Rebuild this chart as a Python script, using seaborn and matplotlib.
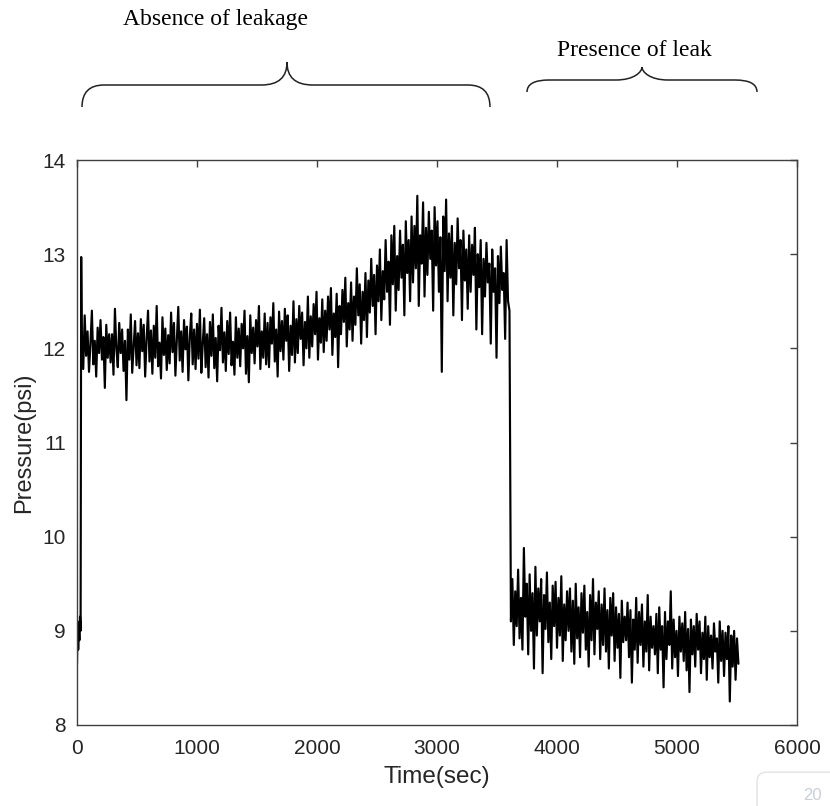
import numpy as np
import pandas as pd
import matplotlib
matplotlib.use("Agg")
import matplotlib.pyplot as plt
import seaborn as sns
from matplotlib.path import Path
from matplotlib.patches import PathPatch, FancyBboxPatch

# start-up transient (sec, psi)
start_time = [0, 5, 10, 15, 20, 25, 30, 35]
start_p = [8.65, 9.10, 8.80, 9.05, 8.90, 9.15, 9.00, 12.97]

# normal operation, sampled every 12 s from t=40
normal_t0, step = 40, 12
normal_p = [
    12.10, 11.78, 12.35, 11.92, 12.18, 11.75, 12.05, 12.40, 11.83, 12.08,
    11.70, 12.22, 11.95, 12.30, 11.88, 12.12, 11.58, 12.25, 11.90, 12.15,
    11.85, 12.15, 11.72, 12.42, 12.00, 11.80, 12.27, 11.95, 12.20, 11.76,
    12.08, 11.45, 12.20, 11.88, 12.36, 11.74, 12.02, 12.29, 11.82, 12.16,
    11.79, 12.31, 11.97, 12.25, 11.70, 12.10, 12.40, 11.86, 12.19, 11.73,
    12.24, 11.90, 12.45, 11.81, 12.06, 11.68, 12.33, 11.93, 12.21, 11.77,
    12.14, 11.84, 12.38, 11.96, 12.27, 11.71, 12.09, 12.44, 11.87, 12.18,
    11.75, 12.30, 11.99, 12.23, 11.66, 12.12, 12.37, 11.83, 12.20, 11.78,
    12.26, 11.89, 12.41, 11.74, 12.05, 12.32, 11.80, 12.15, 11.69, 12.28,
    11.92, 12.36, 11.79, 12.11, 11.65, 12.24, 11.98, 12.43, 11.85, 12.17,
    11.76, 12.29, 11.94, 12.38, 11.82, 12.07, 11.72, 12.33, 11.90, 12.21,
    11.81, 12.26, 12.00, 12.40, 11.73, 12.13, 11.64, 12.35, 11.95, 12.22,
    11.84, 12.30, 12.02, 12.45, 11.78, 12.18, 11.90, 12.37, 11.83, 12.27,
    11.80, 12.33, 12.05, 12.48, 11.86, 12.20, 11.70, 12.39, 11.97, 12.29,
    11.88, 12.42, 12.08, 12.35, 11.76, 12.24, 11.93, 12.50, 11.85, 12.31,
    11.95, 12.45, 12.10, 12.38, 11.82, 12.28, 12.00, 12.55, 11.90, 12.34,
    12.02, 12.47, 12.15, 12.60, 11.88, 12.32, 12.06, 12.52, 11.96, 12.40,
    12.08, 12.55, 12.20, 12.64, 11.93, 12.37, 12.12, 12.58, 11.80, 12.45,
    12.15, 12.62, 12.28, 12.75, 12.02, 12.48, 12.20, 12.70, 12.08, 12.55,
    12.25, 12.85, 12.35, 12.68, 12.05, 12.60, 12.30, 12.80, 12.12, 12.72,
    12.38, 12.95, 12.45, 12.78, 12.15, 12.88, 12.50, 13.05, 12.30, 12.82,
    12.52, 13.15, 12.60, 12.92, 12.25, 13.20, 12.68, 13.30, 12.40, 12.98,
    12.62, 13.25, 12.75, 13.10, 12.35, 13.35, 12.80, 13.15, 12.50, 13.40,
    12.70, 13.30, 12.85, 13.62, 12.45, 13.20, 12.90, 13.55, 12.55, 13.28,
    12.78, 13.45, 12.95, 13.25, 12.40, 13.50, 12.88, 13.35, 12.60, 13.18,
    11.75, 13.40, 12.82, 13.58, 12.50, 13.22, 12.75, 13.30, 12.35, 13.12,
    12.68, 13.38, 12.85, 13.15, 12.30, 13.25, 12.72, 13.05, 12.42, 13.20,
    12.60, 13.10, 12.78, 13.28, 12.20, 13.00, 12.65, 13.15, 12.15, 12.95,
    12.55, 13.12, 12.70, 12.90, 12.05, 13.05, 12.60, 12.85, 11.90, 12.98,
    12.48, 13.08, 12.62, 12.80, 12.10, 13.15, 12.50, 12.40,
]

# after the leak, sampled every 12 s from t=3616
leak_t0 = 3616
leak_p = [
    9.10, 9.55, 8.85, 9.42, 9.05, 9.65, 8.92, 9.35, 8.80, 9.88,
    9.15, 9.50, 8.75, 9.60, 9.00, 9.40, 8.60, 9.68, 8.95, 9.45,
    9.10, 9.55, 8.55, 9.38, 9.02, 9.62, 8.88, 9.30, 8.70, 9.48,
    9.05, 9.52, 8.82, 9.35, 8.95, 9.58, 8.68, 9.28, 8.90, 9.42,
    9.00, 9.45, 8.78, 9.32, 8.65, 9.50, 8.92, 9.25, 8.72, 9.40,
    8.98, 9.48, 8.80, 9.20, 8.62, 9.38, 8.90, 9.55, 8.75, 9.30,
    9.02, 9.42, 8.70, 9.28, 8.85, 9.45, 8.78, 9.22, 8.60, 9.35,
    8.95, 9.40, 8.68, 9.25, 8.82, 9.18, 8.50, 9.32, 8.88, 9.15,
    8.90, 9.30, 8.72, 9.22, 8.45, 9.12, 8.80, 9.35, 8.66, 9.20,
    8.85, 9.28, 8.62, 9.10, 8.78, 9.38, 8.58, 9.15, 8.82, 9.05,
    8.75, 9.18, 8.55, 9.25, 8.80, 9.05, 8.40, 9.20, 8.70, 9.10,
    8.85, 9.42, 8.60, 9.12, 8.72, 9.00, 8.52, 9.15, 8.78, 9.08,
    8.68, 9.20, 8.58, 9.02, 8.35, 9.12, 8.75, 9.05, 8.62, 9.18,
    8.80, 9.10, 8.55, 8.98, 8.70, 9.15, 8.48, 9.05, 8.72, 8.95,
    8.60, 9.08, 8.78, 8.92, 8.45, 9.10, 8.68, 9.00, 8.52, 8.98,
    8.70, 9.05, 8.25, 8.95, 8.62, 9.00, 8.48, 8.92, 8.65,
]

time = np.concatenate([
    start_time,
    normal_t0 + step * np.arange(len(normal_p)),
    leak_t0 + step * np.arange(len(leak_p)),
])
pressure = np.concatenate([start_p, normal_p, leak_p])
df = pd.DataFrame({"Time": time, "Pressure": pressure})

sns.set_theme(style="white")
plt.rcParams["font.family"] = ["Liberation Sans", "DejaVu Sans"]

W, H = 830, 806
fig = plt.figure(figsize=(W / 100, H / 100), dpi=100)
ax = fig.add_axes([77 / W, 1 - 725 / H, 720 / W, 565 / H])

sns.lineplot(data=df, x="Time", y="Pressure", ax=ax, color="black",
             linewidth=1.55, estimator=None)

ax.set_xlim(0, 6000)
ax.set_ylim(8, 14)
ax.set_xticks(range(0, 6001, 1000))
ax.set_yticks(range(8, 15))
ax.tick_params(direction="in", top=True, right=True, length=5, width=1,
               color="#404040", labelcolor="#262626", labelsize=15)
ax.tick_params(axis="x", pad=10)
ax.tick_params(axis="y", pad=8)
for s in ax.spines.values():
    s.set_color("#404040")
    s.set_linewidth(1)
ax.set_xlabel("Time(sec)", fontsize=17.5, color="#262626", labelpad=6)
ax.set_ylabel("Pressure(psi)", fontsize=17, color="#262626", labelpad=5)


def brace(x0, x1, xc, ye, ym, yt):
    # pixel coords with y measured from the top of the image
    r = 22
    c = 26
    pts = [
        (x0, ye), (x0, ym), (x0 + r, ym),
        (xc - c, ym),
        (xc - 8, ym), (xc, ym - 8), (xc, yt),
        (xc, ym - 8), (xc + 8, ym), (xc + c, ym),
        (x1 - r, ym),
        (x1, ym), (x1, ye),
    ]
    codes = [Path.MOVETO, Path.CURVE3, Path.CURVE3, Path.LINETO,
             Path.CURVE4, Path.CURVE4, Path.CURVE4,
             Path.CURVE4, Path.CURVE4, Path.CURVE4,
             Path.LINETO, Path.CURVE3, Path.CURVE3]
    pts = [(x / W, 1 - y / H) for x, y in pts]
    fig.patches.append(PathPatch(Path(pts, codes), transform=fig.transFigure,
                                 fill=False, edgecolor="#222222", lw=1.1))


brace(82, 490, 287, 107, 85, 62)
brace(527, 757, 642, 92, 80, 67)
fig.text(215 / W, 1 - 20 / H, "Absence of leakage", family="Liberation Serif",
         fontsize=17, ha="center", va="center", color="black")
fig.text(634 / W, 1 - 50 / H, "Presence of leak", family="Liberation Serif",
         fontsize=17, ha="center", va="center", color="black")

# faint page badge in the bottom corner of the screenshot
fig.patches.append(FancyBboxPatch((757 / W, -0.02), 0.2, 50 / H,
                                  boxstyle="round,pad=0,rounding_size=0.012",
                                  transform=fig.transFigure, facecolor="white",
                                  edgecolor="#e2e2e2", lw=1))
fig.text(812 / W, 1 - 795 / H, "20", fontsize=12, color="#c8cfdc",
         ha="center", va="center")

fig.savefig("out.png", dpi=100)
